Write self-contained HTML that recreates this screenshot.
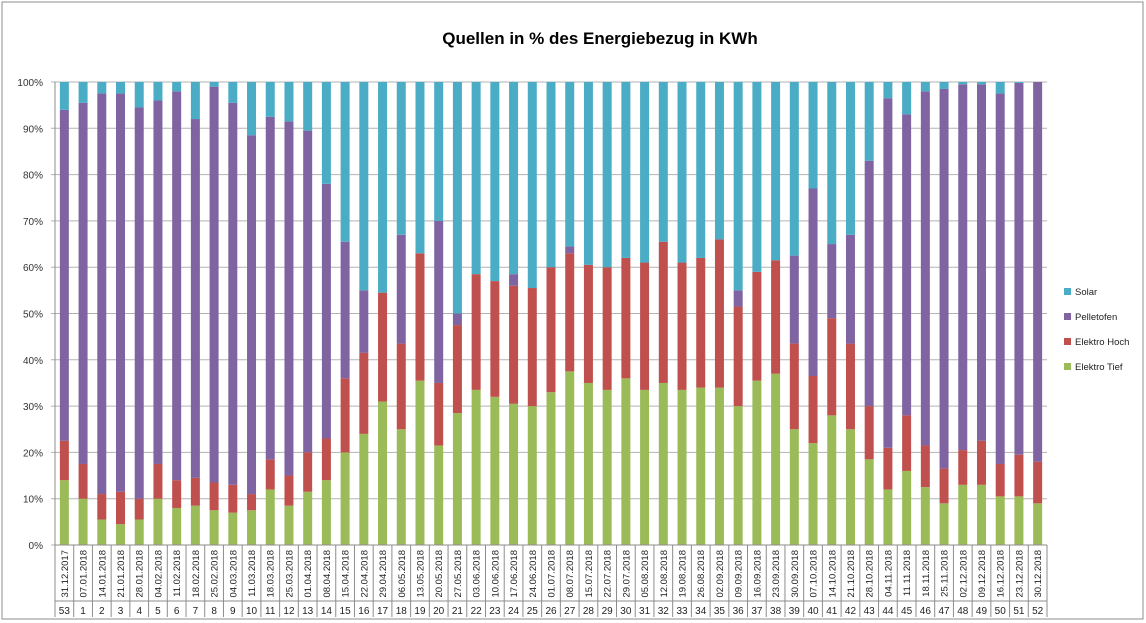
<!DOCTYPE html>
<html><head><meta charset="utf-8"><style>
body{margin:0;background:#fff;font-family:"Liberation Sans",sans-serif}
svg{display:block}
</style></head><body>
<svg id="c" width="1146" height="623" xmlns="http://www.w3.org/2000/svg">
<rect x="2" y="2" width="1141" height="617" fill="#fff" stroke="#8c8c8c"/>
<text x="600" y="44" text-anchor="middle" font-size="17" font-weight="bold" fill="#000">Quellen in % des Energiebezug in KWh</text>
<g id="grid"></g><g id="bars"></g><g id="axis"></g>
<g id="legend"></g>
</svg>
<script>
const dates=["31.12.2017","07.01.2018","14.01.2018","21.01.2018","28.01.2018","04.02.2018","11.02.2018","18.02.2018","25.02.2018","04.03.2018","11.03.2018","18.03.2018","25.03.2018","01.04.2018","08.04.2018","15.04.2018","22.04.2018","29.04.2018","06.05.2018","13.05.2018","20.05.2018","27.05.2018","03.06.2018","10.06.2018","17.06.2018","24.06.2018","01.07.2018","08.07.2018","15.07.2018","22.07.2018","29.07.2018","05.08.2018","12.08.2018","19.08.2018","26.08.2018","02.09.2018","09.09.2018","16.09.2018","23.09.2018","30.09.2018","07.10.2018","14.10.2018","21.10.2018","28.10.2018","04.11.2018","11.11.2018","18.11.2018","25.11.2018","02.12.2018","09.12.2018","16.12.2018","23.12.2018","30.12.2018"];
const weeks=[53,1,2,3,4,5,6,7,8,9,10,11,12,13,14,15,16,17,18,19,20,21,22,23,24,25,26,27,28,29,30,31,32,33,34,35,36,37,38,39,40,41,42,43,44,45,46,47,48,49,50,51,52];
const elektroTief=[14,10,5.5,4.5,5.5,10,8,8.5,7.5,7,7.5,12,8.5,11.5,14,20,24,31,25,35.5,21.5,28.5,33.5,32,30.5,30,33,37.5,35,33.5,36,33.5,35,33.5,34,34,30,35.5,37,25,22,28,25,18.5,12,16,12.5,9,13,13,10.5,10.5,9];
const elektroHoch=[8.5,7.5,5.5,7,4.5,7.5,6,6,6,6,3.5,6.5,6.5,8.5,9,16,17.5,23.5,18.5,27.5,13.5,19,25,25,25.5,25.5,27,25.5,25.5,26.5,26,27.5,30.5,27.5,28,32,21.5,23.5,24.5,18.5,14.5,21,18.5,11.5,9,12,9,7.5,7.5,9.5,7,9,9];
const pelletofen=[71.5,78,86.5,86,84.5,78.5,84,77.5,85.5,82.5,77.5,74,76.5,69.5,55,29.5,13.5,0,23.5,0,35,2.5,0,0,2.5,0,0,1.5,0,0,0,0,0,0,0,0,3.5,0,0,19,40.5,16,23.5,53,75.5,65,76.5,82,79,77,80,80.3,82];
const solar=[6,4.5,2.5,2.5,5.5,4,2,8,1,4.5,11.5,7.5,8.5,10.5,22,34.5,45,45.5,33,37,30,50,41.5,43,41.5,44.5,40,35.5,39.5,40,38,39,34.5,39,38,34,45,41,38.5,37.5,23,35,33,17,3.5,7,2,1.5,0.5,0.5,2.5,0.2,0];
const yTicks=["0%","10%","20%","30%","40%","50%","60%","70%","80%","90%","100%"];
const seriesNames=["Elektro Tief","Elektro Hoch","Pelletofen","Solar"];
const colors=["#9BBB59","#C0504D","#8064A2","#4BACC6"];
const NS="http://www.w3.org/2000/svg";
const L=55,R=1047,T=82,B=545;
const n=dates.length, cw=(R-L)/n, bw=9;
const y=v=>B-(v/100)*(B-T);
const x=i=>L+(i+0.5)*cw;
function mk(tag,attrs,parent,txt){const e=document.createElementNS(NS,tag);for(const k in attrs)e.setAttribute(k,attrs[k]);if(txt!==undefined)e.textContent=txt;parent.appendChild(e);return e;}
const grid=document.getElementById('grid'),bars=document.getElementById('bars'),axis=document.getElementById('axis'),leg=document.getElementById('legend');
yTicks.forEach((t,k)=>{const v=k*10;
 const g=mk('line',{x1:L-4,x2:R,y1:y(v),y2:y(v),stroke:'#b3b3b3','stroke-width':1},grid);
 
 
 const tx=mk('text',{x:L-12,y:y(v)+4,'text-anchor':'end','font-size':10,fill:'#333'},axis,t);
 
 
});
mk('line',{x1:L,x2:L,y1:T,y2:B,stroke:'#8c8c8c'},axis);
mk('line',{x1:L,x2:R,y1:B,y2:B,stroke:'#8c8c8c'},axis);
const series=[elektroTief,elektroHoch,pelletofen,solar];
for(let i=0;i<n;i++){
 const tot=series.reduce((s,a)=>s+a[i],0)||1;
 let cum=0;
 series.forEach((arr,si)=>{
  const v=arr[i]/tot*100;
  if(v>0){const r=mk('rect',{x:x(i)-bw/2,y:y(cum+v),width:bw,height:y(cum)-y(cum+v),fill:colors[si]},bars);
   
   }
  cum+=v;
 });
 const lx=L+i*cw;
 mk('line',{x1:lx,x2:lx,y1:B,y2:617,stroke:'#8c8c8c'},axis);
 const dt=mk('text',{x:0,y:0,'font-size':9.5,fill:'#222','text-anchor':'end',transform:`translate(${x(i)+3.5},550) rotate(-90)`},axis,dates[i]);
 
 
 const wk=mk('text',{x:x(i),y:614,'font-size':10,fill:'#222','text-anchor':'middle'},axis,weeks[i]);
 
 
}
mk('line',{x1:R,x2:R,y1:B,y2:617,stroke:'#8c8c8c'},axis);
mk('line',{x1:L,x2:R,y1:601,y2:601,stroke:'#8c8c8c'},axis);
[3,2,1,0].forEach((si,k)=>{
 const yy=292+k*25;
 const r=mk('rect',{x:1064,y:yy-4,width:7,height:7,fill:colors[si]},leg);
 
 
 const t=mk('text',{x:1075,y:yy+3,'font-size':9.5,fill:'#222'},leg,seriesNames[si]);
 
 
});
</script>
</body></html>
